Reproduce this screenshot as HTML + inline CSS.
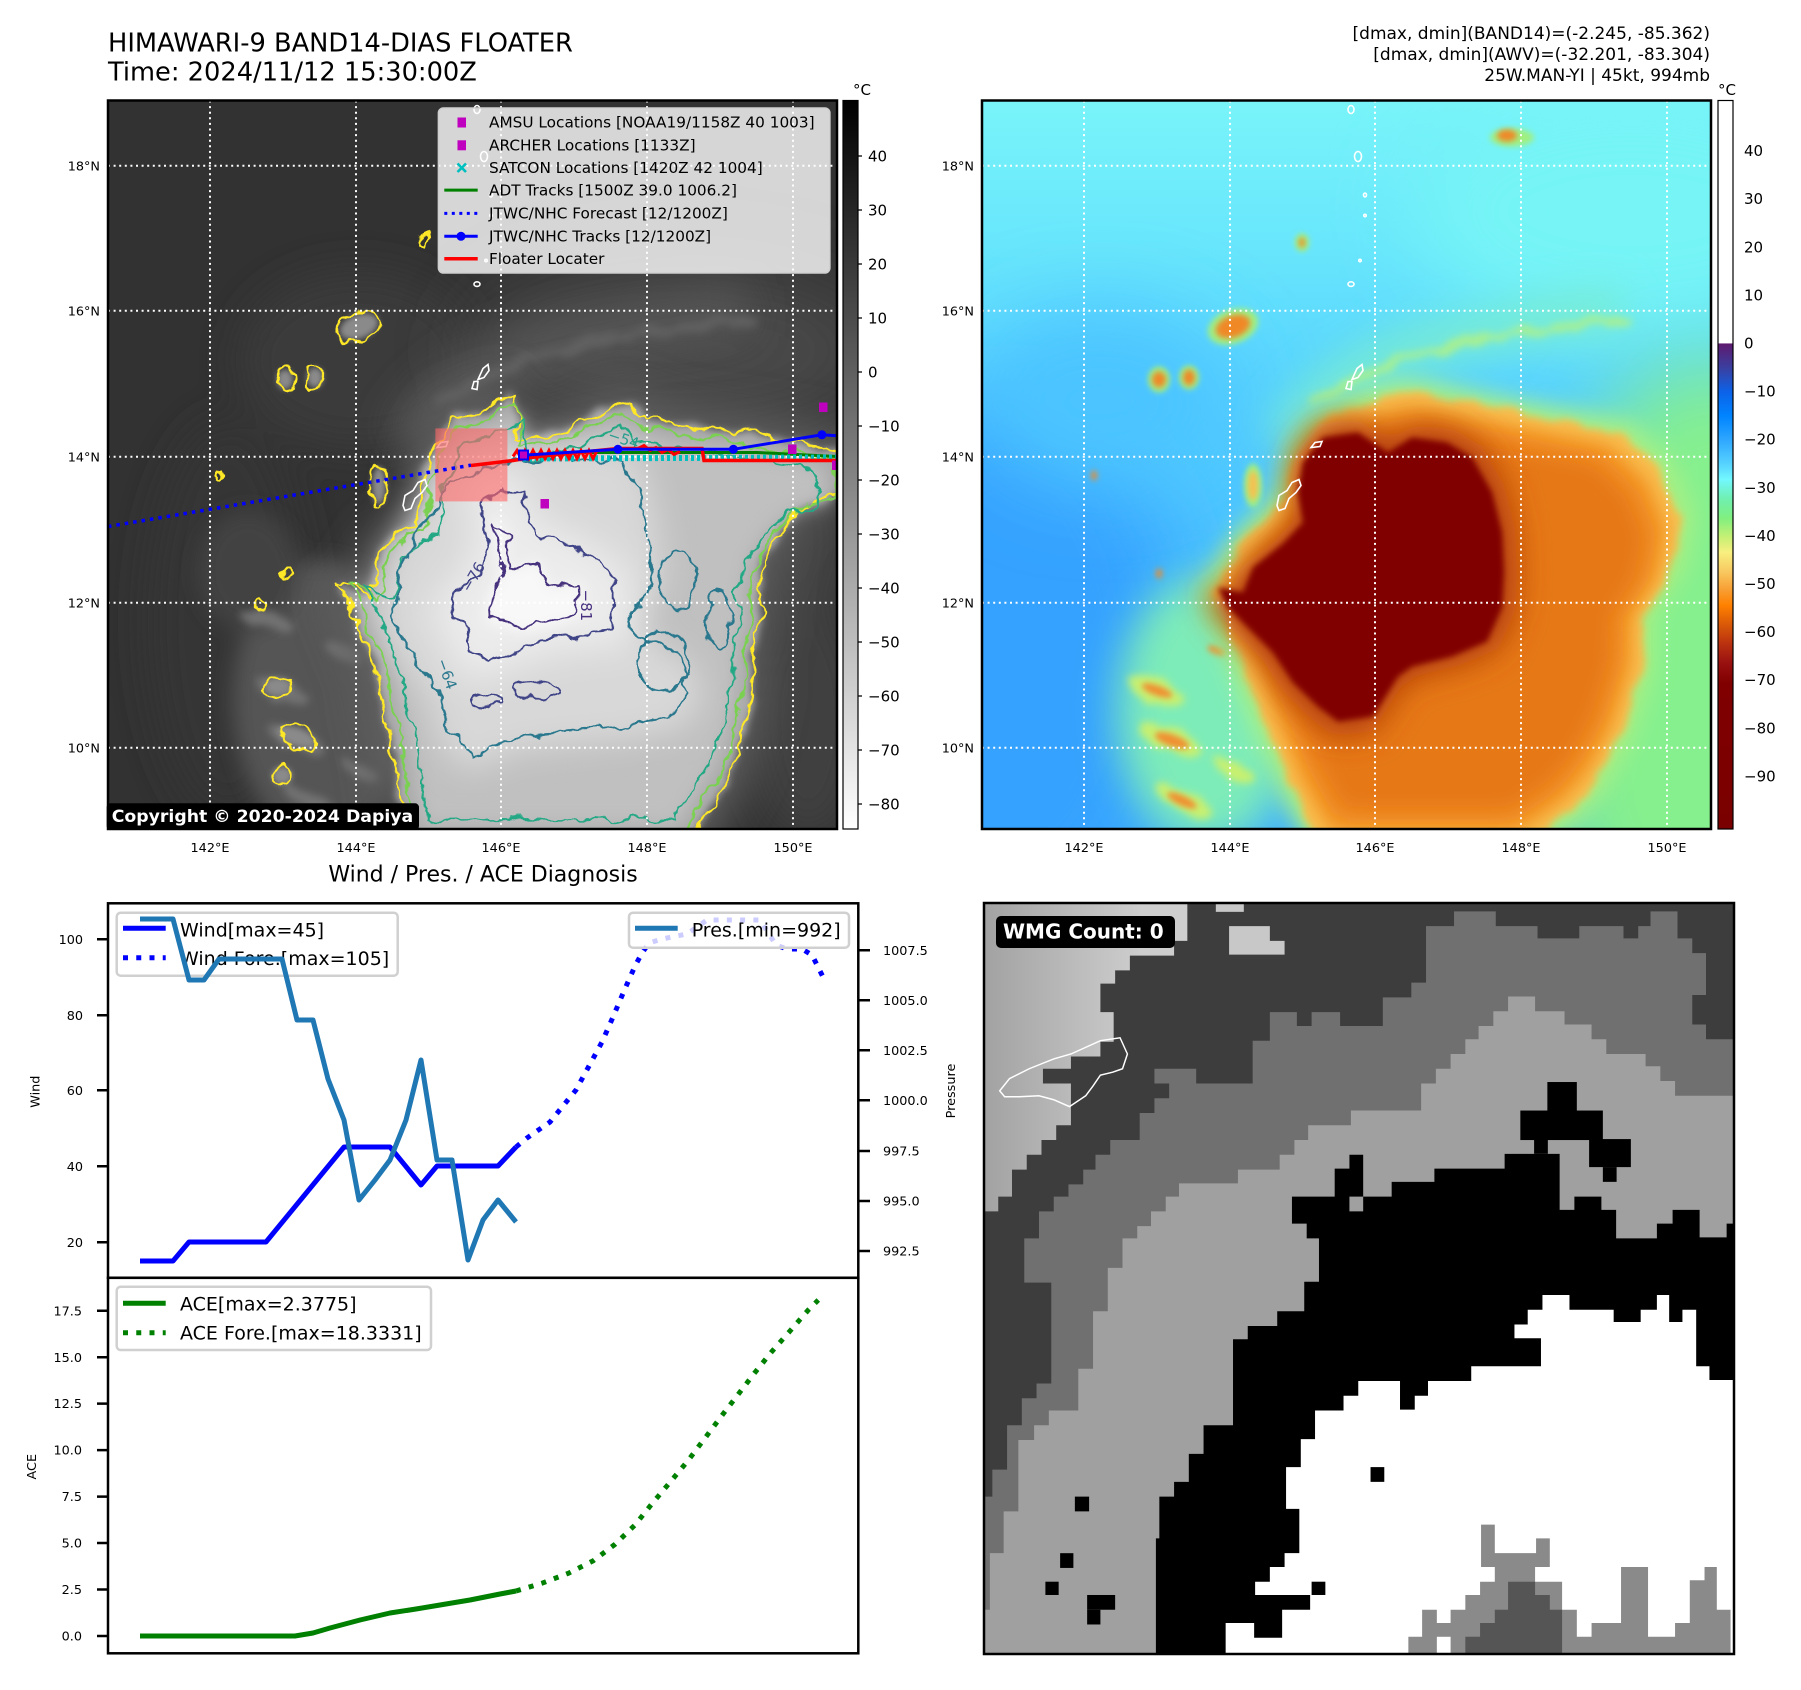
<!DOCTYPE html>
<html><head><meta charset="utf-8"><style>
html,body{margin:0;padding:0;background:#fff}
svg{display:block}
text{font-family:"DejaVu Sans","Liberation Sans",sans-serif;fill:#000}
</style></head><body>
<svg width="1801" height="1690" viewBox="0 0 1801 1690" xmlns="http://www.w3.org/2000/svg" xmlns:xlink="http://www.w3.org/1999/xlink">
<defs>
<clipPath id="mc"><rect x="0" y="0" width="729" height="728.5"/></clipPath>
<filter id="b3" filterUnits="userSpaceOnUse" x="-200" y="-200" width="1200" height="1200"><feGaussianBlur stdDeviation="3"/></filter>
<filter id="b6" filterUnits="userSpaceOnUse" x="-200" y="-200" width="1200" height="1200"><feGaussianBlur stdDeviation="6"/></filter>
<filter id="b10" filterUnits="userSpaceOnUse" x="-200" y="-200" width="1200" height="1200"><feGaussianBlur stdDeviation="10"/></filter>
<filter id="b14" filterUnits="userSpaceOnUse" x="-200" y="-200" width="1200" height="1200"><feGaussianBlur stdDeviation="14"/></filter>
<filter id="b20" filterUnits="userSpaceOnUse" x="-200" y="-200" width="1200" height="1200"><feGaussianBlur stdDeviation="20"/></filter>
<filter id="b40" filterUnits="userSpaceOnUse" x="-300" y="-300" width="1400" height="1400"><feGaussianBlur stdDeviation="40"/></filter>
<filter id="jag" filterUnits="userSpaceOnUse" x="-60" y="-60" width="850" height="850"><feTurbulence type="fractalNoise" baseFrequency="0.05" numOctaves="3" seed="7"/><feDisplacementMap in="SourceGraphic" scale="16" xChannelSelector="R" yChannelSelector="G"/></filter>
<filter id="jb" filterUnits="userSpaceOnUse" x="-60" y="-60" width="850" height="850"><feTurbulence type="fractalNoise" baseFrequency="0.04" numOctaves="3" seed="7" result="t"/><feDisplacementMap in="SourceGraphic" in2="t" scale="16" xChannelSelector="R" yChannelSelector="G" result="d"/><feGaussianBlur in="d" stdDeviation="4"/></filter>
<linearGradient id="gcb" x1="0" y1="0" x2="0" y2="1"><stop offset="0" stop-color="#000"/><stop offset="1" stop-color="#fff"/></linearGradient>
<linearGradient id="rcb" x1="0" y1="0" x2="0" y2="1">
<stop offset="0" stop-color="#fff"/><stop offset="0.333" stop-color="#fff"/>
<stop offset="0.334" stop-color="#5e1a6e"/><stop offset="0.367" stop-color="#3a3fa0"/>
<stop offset="0.4" stop-color="#0c62e8"/><stop offset="0.433" stop-color="#0084ff"/>
<stop offset="0.467" stop-color="#30a8ff"/><stop offset="0.5" stop-color="#58d4ff"/>
<stop offset="0.52" stop-color="#72f8ff"/><stop offset="0.547" stop-color="#70f0b0"/>
<stop offset="0.573" stop-color="#80f080"/><stop offset="0.6" stop-color="#c8f074"/>
<stop offset="0.62" stop-color="#f8f080"/><stop offset="0.647" stop-color="#f8c860"/>
<stop offset="0.673" stop-color="#f89c30"/><stop offset="0.693" stop-color="#ff8000"/>
<stop offset="0.72" stop-color="#d85808"/><stop offset="0.747" stop-color="#b83010"/>
<stop offset="0.773" stop-color="#981010"/><stop offset="0.8" stop-color="#800000"/>
<stop offset="1" stop-color="#7a0000"/></linearGradient>
<linearGradient id="rbg" x1="0" y1="0" x2="0" y2="1"><stop offset="0" stop-color="#78f4f9"/><stop offset="0.2" stop-color="#68e6fc"/><stop offset="0.45" stop-color="#52ccff"/><stop offset="0.75" stop-color="#44b8ff"/><stop offset="1" stop-color="#40b0ff"/></linearGradient>
<linearGradient id="lgt" gradientUnits="userSpaceOnUse" x1="8" y1="0" x2="330" y2="0"><stop offset="0" stop-color="#a2a2a2"/><stop offset="1" stop-color="#cecece"/></linearGradient>

<path id="S1" d="M390.5,302.5 L405.5,292.5 L410.4,317.4 L405.5,337.3 L440.3,337.3 L490,312.4 L515,302.5 L539.8,317.4 L589.6,327.4 L639.3,332.3 L689,342.3 L740,352 L740,392 L709,397 L679,421.9 L659.2,451.7 L649.3,491.5 L654.2,516.4 L644.3,551.2 L644.3,591 L634.3,640.8 L619.4,680.6 L599.5,710.4 L579.6,745 L301,745 L291,690.5 L286.1,655.7 L276.1,615.9 L271.1,576.1 L256.2,541.3 L236.3,491.5 L231.3,481.6 L246.3,486.6 L261.2,496.5 L271.1,451.7 L291,431.8 L310.9,426.9 L315.9,372.1 L330.8,342.3 L345.8,317.4 L370.6,312.4 Z"/>
<path id="S64" d="M311,431.8 L340.8,382 L390.5,362.2 L465.2,357.2 L514.9,362.2 L529.9,392 L539.8,431.8 L544.8,481.6 L519.9,521.4 L539.8,541.3 L569.7,556.2 L579.6,591 L559.7,616 L514.9,626 L465.2,630.8 L415.4,635.8 L365.7,655.7 L340.8,630.8 L330.8,591 L301,551.2 L286.1,516.4 L291,471.6 Z"/>
<path id="S76" d="M370.6,402 L390.5,392 L415.4,392 L420.4,417 L430.3,431.8 L465.2,446.8 L490,461.7 L504.9,476.6 L504.9,531.3 L450.2,536.3 L415.4,546.3 L380.6,561.2 L360.7,546.3 L355.7,521.4 L340.8,511.4 L350.7,491.5 L370.6,471.6 L380.6,441.8 Z"/>
<path id="S81" d="M385.6,421.9 L400.5,431.8 L400.5,471.6 L430.3,461.7 L440.3,486.6 L470.1,481.6 L470.1,511.4 L440.3,521.4 L415.4,526.4 L380.6,516.4 L385.6,491.5 L395.5,476.6 Z"/>
<path id="CORE" d="M321,362 L341,337 L376,332 L391,342 L406,352 L430,337 L465,342 L490,357 L510,392 L520,432 L522,472 L520,507 L505,541 L470,556 L430,566 L416,576 L391,616 L356,621 L336,606 L311,582 L291,552 L271,532 L246,507 L236,487 L261,492 L271,467 L301,443 L321,422 L316,392 Z"/>
<path id="ORNG" d="M440,293 L538,313 L639,333 L679,372 L699,422 L689,472 L660,516 L660,566 L640,631 L614,681 L589,711 L540,745 L341,745 L311,691 L291,641 L271,591 L251,541 L231,492 L261,442 L301,402 L316,352 L341,323 L381,303 L416,293 Z"/>
<g id="GRID" fill="none" stroke="#fff" stroke-width="2" stroke-dasharray="2 3.6">
<path d="M102,0V729M248,0V729M393,0V729M539,0V729M685,0V729"/>
<path d="M0,65.2H729M0,210.2H729M0,356.2H729M0,502.2H729M0,647.2H729"/>
</g>
<g id="ISL" fill="none" stroke="#fff" stroke-width="1.6">
<path d="M295,405 L297,395 L305,390 L310,382 L317,379 L319,385 L314,392 L307,398 L303,408 L297,410 Z"/>
<path d="M370,279 L375,268 L380,264 L381,270 L376,277 Z"/>
<path d="M364,288 L366,281 L370,281 L369,289 Z"/>
<path d="M329,347 L333,342 L340,341 L338,346 Z"/>
<ellipse cx="369" cy="9" rx="3" ry="4"/>
<ellipse cx="376" cy="56" rx="3.5" ry="5"/>
<ellipse cx="383" cy="94.5" rx="1.5" ry="2"/>
<ellipse cx="383" cy="115" rx="1.2" ry="1.2"/>
<ellipse cx="378" cy="160" rx="1.2" ry="1.2"/>
<ellipse cx="369" cy="183.6" rx="3" ry="2.3"/>
</g>
</defs>

<!-- Titles -->
<text x="108" y="51.7" font-size="25.7">HIMAWARI-9 BAND14-DIAS FLOATER</text>
<text x="108" y="80.5" font-size="25.7">Time: 2024/11/12 15:30:00Z</text>
<text x="1710" y="39" font-size="17" text-anchor="end">[dmax, dmin](BAND14)=(-2.245, -85.362)</text>
<text x="1710" y="60" font-size="17" text-anchor="end">[dmax, dmin](AWV)=(-32.201, -83.304)</text>
<text x="1710" y="81" font-size="17" text-anchor="end">25W.MAN-YI | 45kt, 994mb</text>

<!-- ================= LEFT MAP ================= -->
<g transform="translate(108,100.5)">
<g clip-path="url(#mc)">
<rect x="0" y="0" width="729" height="729" fill="#323232"/>
<g filter="url(#b20)">
<ellipse cx="250" cy="260" rx="120" ry="90" fill="#3a3a3a"/>
<ellipse cx="120" cy="520" rx="80" ry="200" fill="#363636"/>
<ellipse cx="700" cy="620" rx="60" ry="120" fill="#404040"/>
<ellipse cx="690" cy="440" rx="50" ry="80" fill="#444"/>
</g>
<ellipse cx="570" cy="250" rx="210" ry="85" fill="#484848" filter="url(#b40)"/>
<!-- NE cirrus arc -->
<path d="M300,345 C330,285 400,252 470,238 S570,215 640,210" stroke="#555" stroke-width="50" fill="none" filter="url(#b20)"/>
<path d="M330,305 C380,268 450,248 520,236 S600,222 650,220" stroke="#606060" stroke-width="10" fill="none" filter="url(#jb)"/>
<!-- lower-left streaks -->
<g filter="url(#b10)" fill="#545454">
<ellipse cx="215" cy="600" rx="90" ry="140"/>
<ellipse cx="140" cy="470" rx="50" ry="60" fill="#424242"/>
</g>
<g filter="url(#jb)" fill="#727272">
<ellipse cx="175" cy="590" rx="28" ry="10" transform="rotate(20 175 590)"/>
<ellipse cx="190" cy="640" rx="30" ry="10" transform="rotate(20 190 640)"/>
<ellipse cx="200" cy="700" rx="30" ry="9" transform="rotate(25 200 700)"/>
<ellipse cx="235" cy="550" rx="20" ry="8" transform="rotate(20 235 550)"/>
<ellipse cx="250" cy="670" rx="22" ry="8" transform="rotate(25 250 670)"/>
<ellipse cx="160" cy="520" rx="25" ry="8" transform="rotate(15 160 520)"/>
</g>
<!-- cloud mass -->
<use href="#S1" fill="#606060" filter="url(#b20)" transform="translate(470 520) scale(1.08) translate(-470 -520)"/>
<use href="#S1" fill="#a8a8a8" filter="url(#jb)"/>
<use href="#S1" fill="#c0c0c0" filter="url(#b10)" transform="translate(470 520) scale(0.92) translate(-470 -520)"/>
<use href="#S64" fill="#d8d8d8" filter="url(#b14)" transform="translate(430 500) scale(1.1) translate(-430 -500)"/>
<use href="#S76" fill="#ececec" filter="url(#b14)" transform="translate(430 480) scale(1.25) translate(-430 -480)"/>
<use href="#S81" fill="#f8f8f8" filter="url(#b6)" transform="translate(425 475) scale(1.1) translate(-425 -475)"/>
<!-- small cloud blobs -->
<g fill="#8a8a8a" filter="url(#b3)">
<ellipse cx="251" cy="226" rx="20" ry="12" transform="rotate(-20 251 226)"/>
<ellipse cx="177" cy="279" rx="8" ry="10"/><ellipse cx="207" cy="277" rx="8" ry="10"/>
<ellipse cx="271" cy="385" rx="7" ry="19"/>
<ellipse cx="170" cy="586" rx="13" ry="8"/><ellipse cx="188" cy="636" rx="20" ry="8" transform="rotate(20 188 636)"/>
<ellipse cx="174" cy="675" rx="10" ry="9"/>
</g>
<!-- contours -->
<g filter="url(#jag)" fill="none" stroke-width="2.3" stroke-linejoin="round">
<use href="#S1" stroke="#fde725"/>
<use href="#S1" stroke="#7ad151" transform="translate(470 520) scale(0.955) translate(-470 -520)"/>
<use href="#S1" stroke="#22a884" transform="translate(470 520) scale(0.885) translate(-470 -520)"/>
<use href="#S64" stroke="#2a788e"/>
<use href="#S76" stroke="#414487"/>
<use href="#S81" stroke="#46307e"/>
<g stroke="#fde725">
<ellipse cx="251" cy="226" rx="22" ry="14" transform="rotate(-20 251 226)"/>
<ellipse cx="177" cy="279" rx="8" ry="11"/><ellipse cx="207" cy="277" rx="8" ry="11"/>
<ellipse cx="271" cy="385" rx="8" ry="20"/>
<ellipse cx="170" cy="586" rx="14" ry="9"/><ellipse cx="188" cy="636" rx="22" ry="9" transform="rotate(20 188 636)"/>
<ellipse cx="174" cy="675" rx="10" ry="10"/>
<ellipse cx="177" cy="473" rx="4" ry="6"/><ellipse cx="112" cy="375" rx="3" ry="5"/><ellipse cx="316" cy="141" rx="4" ry="6"/>
<ellipse cx="150" cy="505" rx="5" ry="7"/>
</g>
<g stroke="#2a788e">
<ellipse cx="570" cy="480" rx="18" ry="30"/><ellipse cx="555" cy="560" rx="25" ry="30"/><ellipse cx="610" cy="520" rx="12" ry="30"/>
</g>
<g stroke="#414487">
<ellipse cx="430" cy="590" rx="25" ry="8"/><ellipse cx="380" cy="600" rx="15" ry="6"/>
</g>
</g>
<text x="500" y="342" font-size="15" style="fill:#2a9d8f" transform="rotate(18 510 337)">−54</text>
<text x="352" y="488" font-size="15" style="fill:#414487" transform="rotate(-60 361 482)">−76</text>
<text x="470" y="502" font-size="15" style="fill:#46307e" transform="rotate(90 478 497)">−81</text>
<text x="328" y="571" font-size="15" style="fill:#2a788e" transform="rotate(70 336 566)">−64</text>
<use href="#ISL"/>
<use href="#GRID"/>
<!-- floater box -->
<rect x="327.4" y="327.9" width="72" height="73" fill="rgb(255,105,105)" fill-opacity="0.62"/>
<!-- tracks -->
<path d="M0,426 L363,364.7" stroke="#0000ff" stroke-width="3.5" stroke-dasharray="3.5 5" fill="none"/>
<path d="M470,352 L649,352 L730,356" stroke="#008000" stroke-width="3" fill="none"/>
<path d="M415,358 L729,357" stroke="#00bfbf" stroke-width="6" stroke-dasharray="3 3" fill="none"/>
<path d="M363,365 L405,360 L430,356 L490,350 L510,348 L594,348 L596,360 L730,360" stroke="#ff0000" stroke-width="3.5" fill="none"/>
<path d="M405,356 l4,-6 l4,8 l4,-8 l4,8 l4,-8 l4,8 l4,-8 l4,8 l4,-8 l4,8 l4,-8 l4,8 l4,-8 l4,8 l4,-8 l4,8 l4,-8 l4,8 l4,-8 l4,8 l4,-8" stroke="#ff0000" stroke-width="3" fill="none"/>
<path d="M530,348 l6,-3 l6,5 l6,-3 l6,5 l6,-3 l6,5 l6,-3" stroke="#ff0000" stroke-width="3" fill="none"/>
<path d="M415.4,354.7 L509.9,348.8 L625.4,348.8 L713.9,334.3 L730,335.3" stroke="#0000ff" stroke-width="3" fill="none"/>
<g fill="#0000ff"><circle cx="509.9" cy="348.8" r="4.5"/><circle cx="625.4" cy="348.8" r="4.5"/><circle cx="713.9" cy="334.3" r="4.5"/></g>
<rect x="411" y="350" width="9" height="9" fill="#bf00bf" stroke="#0000ff" stroke-width="2"/>
<g fill="#bf00bf"><rect x="432.5" y="398.5" width="8.5" height="9.5"/><rect x="711" y="302" width="8.5" height="9.5"/><rect x="680" y="344" width="8.5" height="9.5"/><rect x="724" y="360" width="8.5" height="9.5"/></g>
</g>
</g>
<!-- legend -->
<rect x="438.4" y="108" width="391.5" height="165" rx="5" fill="#fff" fill-opacity="0.8" stroke="#cfcfcf" stroke-width="1.5"/>
<rect x="457.5" y="117.5" width="8.5" height="10" fill="#bf00bf"/>
<rect x="457.5" y="140.3" width="8.5" height="10" fill="#bf00bf"/>
<path d="M457.5,163.5 l8.5,8.5 M466,163.5 l-8.5,8.5" stroke="#00bfbf" stroke-width="2.6"/>
<path d="M444.3,190.1 H477.7" stroke="#008000" stroke-width="3"/>
<path d="M444.3,213.4 H477.7" stroke="#0000ff" stroke-width="3" stroke-dasharray="3 4.5"/>
<path d="M444.3,236.3 H477.7" stroke="#0000ff" stroke-width="3"/><circle cx="461" cy="236.3" r="4.5" fill="#0000ff"/>
<path d="M444.3,258.7 H477.7" stroke="#ff0000" stroke-width="3.5"/>
<g font-size="15.3">
<text x="489" y="127.7">AMSU Locations [NOAA19/1158Z 40 1003]</text>
<text x="489" y="150.6">ARCHER Locations [1133Z]</text>
<text x="489" y="173">SATCON Locations [1420Z 42 1004]</text>
<text x="489" y="195.4">ADT Tracks [1500Z 39.0 1006.2]</text>
<text x="489" y="218.7">JTWC/NHC Forecast [12/1200Z]</text>
<text x="489" y="241.6">JTWC/NHC Tracks [12/1200Z]</text>
<text x="489" y="264">Floater Locater</text>
</g>
<rect x="108" y="100.5" width="729" height="728.5" fill="none" stroke="#000" stroke-width="2.5"/>
<rect x="106.7" y="803.3" width="312.3" height="26.7" rx="4" fill="#000"/>
<text x="111.7" y="822" font-size="17.3" font-weight="bold" style="fill:#fff">Copyright © 2020-2024 Dapiya</text>
<!-- map axes labels -->
<g font-size="12.8" text-anchor="end">
<text x="100" y="170.3">18°N</text><text x="100" y="315.3">16°N</text><text x="100" y="461.3">14°N</text><text x="100" y="607.3">12°N</text><text x="100" y="752.3">10°N</text>
<text x="974" y="170.3">18°N</text><text x="974" y="315.3">16°N</text><text x="974" y="461.3">14°N</text><text x="974" y="607.3">12°N</text><text x="974" y="752.3">10°N</text>
</g>
<g font-size="12.8" text-anchor="middle">
<text x="210" y="852">142°E</text><text x="356" y="852">144°E</text><text x="501" y="852">146°E</text><text x="647" y="852">148°E</text><text x="793" y="852">150°E</text>
<text x="1084" y="852">142°E</text><text x="1230" y="852">144°E</text><text x="1375" y="852">146°E</text><text x="1521" y="852">148°E</text><text x="1667" y="852">150°E</text>
</g>
<!-- left colorbar -->
<rect x="843" y="100.5" width="15" height="728.5" fill="url(#gcb)" stroke="#000" stroke-width="1.2"/>
<text x="862" y="95" font-size="15" text-anchor="middle">°C</text>
<g stroke="#000" stroke-width="1.2"><path d="M858,156h4M858,210h4M858,264h4M858,318h4M858,372h4M858,426h4M858,480h4M858,534h4M858,588h4M858,642h4M858,696h4M858,750h4M858,804h4"/></g>
<g font-size="15">
<text x="868" y="161.4">40</text><text x="868" y="215.4">30</text><text x="868" y="269.4">20</text><text x="868" y="323.4">10</text><text x="868" y="377.4">0</text>
<text x="868" y="431.4">−10</text><text x="868" y="485.4">−20</text><text x="868" y="539.4">−30</text><text x="868" y="593.4">−40</text><text x="868" y="647.4">−50</text><text x="868" y="701.4">−60</text><text x="868" y="755.4">−70</text><text x="868" y="809.4">−80</text>
</g>

<!-- ================= RIGHT MAP ================= -->
<g transform="translate(982,100.5)">
<g clip-path="url(#mc)">
<rect x="0" y="0" width="729" height="729" fill="url(#rbg)"/>
<ellipse cx="650" cy="110" rx="220" ry="120" fill="#76f4f6" filter="url(#b40)"/>
<ellipse cx="730" cy="580" rx="180" ry="320" fill="#86f08e" filter="url(#b40)"/>
<ellipse cx="30" cy="560" rx="170" ry="260" fill="#34a2ff" filter="url(#b40)"/>
<ellipse cx="120" cy="300" rx="130" ry="90" fill="#4cc4ff" filter="url(#b40)"/>
<!-- NE arc -->
<path d="M300,345 C330,285 400,252 470,238 S570,215 640,210" stroke="#78ecd0" stroke-width="40" fill="none" filter="url(#b20)"/>
<path d="M330,305 C380,268 450,248 520,236 S600,222 650,220" stroke="#a8f090" stroke-width="8" fill="none" filter="url(#jb)"/>
<!-- lower-left streaks -->
<ellipse cx="225" cy="610" rx="90" ry="135" fill="#7eecb8" filter="url(#b20)"/>
<g filter="url(#jb)" fill="#c8f070">
<ellipse cx="175" cy="590" rx="30" ry="12" transform="rotate(20 175 590)"/>
<ellipse cx="190" cy="640" rx="32" ry="12" transform="rotate(20 190 640)"/>
<ellipse cx="200" cy="700" rx="32" ry="11" transform="rotate(25 200 700)"/>
<ellipse cx="250" cy="670" rx="24" ry="10" transform="rotate(25 250 670)"/>
</g>
<g filter="url(#b3)" fill="#f09030">
<ellipse cx="175" cy="590" rx="16" ry="5" transform="rotate(20 175 590)"/>
<ellipse cx="190" cy="640" rx="18" ry="6" transform="rotate(20 190 640)"/>
<ellipse cx="200" cy="700" rx="16" ry="5" transform="rotate(25 200 700)"/>
<ellipse cx="235" cy="550" rx="10" ry="4" transform="rotate(20 235 550)"/>
</g>
<!-- cloud mass -->
<use href="#ORNG" fill="#a8f084" filter="url(#b10)" transform="translate(470 520) scale(1.06) translate(-470 -520)"/>
<use href="#ORNG" fill="#f8c050" filter="url(#jb)"/>
<use href="#ORNG" fill="#f49426" filter="url(#b10)" transform="translate(470 520) scale(0.94) translate(-470 -520)"/>
<use href="#ORNG" fill="#e67814" filter="url(#b14)" transform="translate(470 520) scale(0.86) translate(-470 -520)"/>
<use href="#CORE" fill="#b43c08" filter="url(#b14)" transform="translate(390 470) scale(1.1) translate(-390 -470)"/>
<use href="#CORE" fill="#800000" filter="url(#b3)"/>
<!-- small blobs -->
<g fill="#a0f080" filter="url(#b3)">
<ellipse cx="251" cy="226" rx="26" ry="17" transform="rotate(-20 251 226)"/>
<ellipse cx="177" cy="279" rx="11" ry="13"/><ellipse cx="207" cy="277" rx="10" ry="12"/>
<ellipse cx="271" cy="385" rx="9" ry="22"/>
<ellipse cx="530" cy="37" rx="22" ry="9"/><ellipse cx="320" cy="142" rx="7" ry="9"/>
</g>
<g fill="#f08828" filter="url(#b3)">
<ellipse cx="251" cy="226" rx="18" ry="11" transform="rotate(-20 251 226)"/>
<ellipse cx="177" cy="279" rx="7" ry="8"/><ellipse cx="207" cy="277" rx="6" ry="8"/>
<ellipse cx="271" cy="385" rx="5" ry="15" fill="#f8c050"/>
<ellipse cx="525" cy="35" rx="10" ry="6"/><ellipse cx="320" cy="142" rx="3" ry="5"/>
<ellipse cx="112" cy="375" rx="3" ry="5"/><ellipse cx="177" cy="473" rx="3" ry="5"/>
</g>
<use href="#ISL"/>
<use href="#GRID"/>
</g>
</g>
<rect x="982" y="100.5" width="729" height="728.5" fill="none" stroke="#000" stroke-width="2.5"/>
<!-- right colorbar -->
<rect x="1718" y="100.5" width="15" height="728.5" fill="url(#rcb)" stroke="#000" stroke-width="1.2"/>
<text x="1727" y="95" font-size="15" text-anchor="middle">°C</text>
<g font-size="15">
<text x="1744" y="156.1">40</text><text x="1744" y="204.2">30</text><text x="1744" y="252.3">20</text><text x="1744" y="300.4">10</text><text x="1744" y="348.5">0</text>
<text x="1744" y="396.6">−10</text><text x="1744" y="444.7">−20</text><text x="1744" y="492.8">−30</text><text x="1744" y="540.9">−40</text><text x="1744" y="589">−50</text><text x="1744" y="637.1">−60</text><text x="1744" y="685.2">−70</text><text x="1744" y="733.3">−80</text><text x="1744" y="781.4">−90</text>
</g>

<!-- ================= WIND / PRES / ACE ================= -->
<text x="483" y="881.5" font-size="22" text-anchor="middle">Wind / Pres. / ACE Diagnosis</text>
<g stroke="#000" stroke-width="2.5">
<path d="M97,939.3H108M97,1015.3H108M97,1090.3H108M97,1166.3H108M97,1242.3H108"/>
<path d="M858,950.3H870M858,1000.3H870M858,1050.3H870M858,1100.3H870M858,1151H870M858,1201H870M858,1251H870"/>
<path d="M97,1310.7H108M97,1357.2H108M97,1403.6H108M97,1450.1H108M97,1496.6H108M97,1543H108M97,1589.5H108M97,1636H108"/>
</g>
<g font-size="12.8" text-anchor="end">
<text x="83" y="943.9">100</text><text x="83" y="1019.9">80</text><text x="83" y="1094.9">60</text><text x="83" y="1170.9">40</text><text x="83" y="1246.9">20</text>
<text x="82" y="1315.3">17.5</text><text x="82" y="1361.8">15.0</text><text x="82" y="1408.2">12.5</text><text x="82" y="1454.7">10.0</text><text x="82" y="1501.2">7.5</text><text x="82" y="1547.6">5.0</text><text x="82" y="1594.1">2.5</text><text x="82" y="1640.6">0.0</text>
</g>
<g font-size="12.8">
<text x="883" y="954.9">1007.5</text><text x="883" y="1004.9">1005.0</text><text x="883" y="1054.9">1002.5</text><text x="883" y="1104.9">1000.0</text><text x="883" y="1155.6">997.5</text><text x="883" y="1205.6">995.0</text><text x="883" y="1255.6">992.5</text>
</g>
<text font-size="12.8" text-anchor="middle" transform="translate(39.5,1091.7) rotate(-90)">Wind</text>
<text font-size="12.8" text-anchor="middle" transform="translate(955,1091) rotate(-90)">Pressure</text>
<text font-size="12.8" text-anchor="middle" transform="translate(36,1466.7) rotate(-90)">ACE</text>

<polyline points="140,1261 173,1261 189,1242 266,1242 344,1147 390,1147 421,1185 437,1166 498,1166 516,1147" fill="none" stroke="#0000ff" stroke-width="5" stroke-linejoin="round"/>
<polyline points="516,1147 527,1138 550,1122 567,1101 576,1090 589,1066 602,1042 613,1017 624,991 635,966 642,953 649,943 662,939 687,934 707,920 760,920 776,945 787,949 802,949 812,955 823,977" fill="none" stroke="#0000ff" stroke-width="5" stroke-dasharray="5 8.25"/>
<rect x="116.7" y="912.7" width="281" height="63" rx="4" fill="#fff" fill-opacity="0.8" stroke="#d0d0d0" stroke-width="2.5"/>
<path d="M123,928.3H165.7" stroke="#0000ff" stroke-width="5"/>
<path d="M123,957.7H165.7" stroke="#0000ff" stroke-width="5" stroke-dasharray="5 8.25"/>
<text x="180" y="936.5" font-size="19">Wind[max=45]</text>
<text x="180" y="965" font-size="19">Wind Fore.[max=105]</text>
<polyline points="140,919 173,919 189,980 204,980 219,959 282,959 297,1020 313,1020 328,1079 344,1120 359,1200 375,1180 390,1160 406,1120 421,1060 437,1160 452,1160 468,1260 483,1220 498,1200 516,1222" fill="none" stroke="#1f77b4" stroke-width="5" stroke-linejoin="round"/>
<rect x="629" y="912.7" width="220" height="35" rx="4" fill="#fff" fill-opacity="0.8" stroke="#d0d0d0" stroke-width="2.5"/>
<path d="M635,928.3H677.7" stroke="#1f77b4" stroke-width="5"/>
<text x="691.7" y="936.5" font-size="19">Pres.[min=992]</text>
<rect x="108" y="903.3" width="750.3" height="374.5" fill="none" stroke="#000" stroke-width="2.5"/>

<polyline points="140,1636 295,1636 313,1633 330,1628 360,1620 390,1613 416,1609 440,1605 470,1600 500,1594 516,1591" fill="none" stroke="#008000" stroke-width="5" stroke-linejoin="round"/>
<polyline points="516,1591 541.7,1583.3 568.3,1573.3 593.3,1560.7 615,1544.3 635,1525 652.3,1503.3 670,1482.3 687.7,1461 704.3,1439 721,1416.7 737.7,1395 754.3,1373.3 771.7,1351.7 790,1331 808.3,1310 818.3,1300" fill="none" stroke="#008000" stroke-width="5" stroke-dasharray="5 8.25"/>
<rect x="116.7" y="1286.7" width="314.3" height="63.3" rx="4" fill="#fff" fill-opacity="0.8" stroke="#d0d0d0" stroke-width="2.5"/>
<path d="M123,1303.3H165.7" stroke="#008000" stroke-width="5"/>
<path d="M123,1332.7H165.7" stroke="#008000" stroke-width="5" stroke-dasharray="5 8.25"/>
<text x="180" y="1310.5" font-size="19">ACE[max=2.3775]</text>
<text x="180" y="1339.5" font-size="19">ACE Fore.[max=18.3331]</text>
<rect x="108" y="1277.8" width="750.3" height="375.5" fill="none" stroke="#000" stroke-width="2.5"/>

<!-- ================= BOTTOM RIGHT ================= -->
<svg x="984" y="903" width="750" height="751" viewBox="8 8 1527 1527" preserveAspectRatio="none">
<rect x="0" y="0" width="1600" height="1600" fill="#3d3d3d"/>
<polygon fill="url(#lgt)" points="8,8 422,8 422,85 395,85 395,115 305,115 305,145 275,145 275,172 245,172 245,230 272,230 272,290 245,290 245,320 185,320 185,345 128,345 128,375 185,375 185,460 155,460 155,490 125,490 125,520 95,520 95,550 65,550 65,605 37,605 37,635 8,635"/>
<rect x="480" y="8" width="57" height="18" fill="#c8c8c8"/>
<polygon fill="#c8c8c8" points="507,55 590,55 590,85 620,85 620,113 507,113"/>
<polygon fill="#707070" points="965,25 1050,25 1050,55 1135,55 1135,80 1220,80 1220,55 1310,55 1310,80 1340,80 1340,55 1365,55 1365,25 1420,25 1420,80 1450,80 1450,110 1478,110 1478,195 1450,195 1450,255 1478,255 1478,285 1540,285 1540,1540 8,1540 8,1215 25,1215 25,1160 55,1160 55,1070 85,1070 85,1015 115,1015 115,985 145,985 145,780 90,780 90,690 120,690 120,635 150,635 150,605 180,605 180,580 210,580 210,550 235,550 235,520 265,520 265,490 325,490 325,435 355,435 355,405 385,405 385,375 355,375 355,345 440,345 440,375 555,375 555,288 590,288 590,230 645,230 645,258 675,258 675,230 733,230 733,258 820,258 820,200 878,200 878,170 908,170 908,55 965,55"/>
<polygon fill="#a0a0a0" points="1540,400 1415,400 1415,370 1385,370 1385,340 1355,340 1355,315 1275,315 1275,285 1245,285 1245,255 1190,255 1190,228 1130,228 1130,198 1075,198 1075,228 1045,228 1045,258 1015,258 1015,285 988,285 988,315 958,315 958,345 928,345 928,375 898,375 898,430 755,430 755,460 668,460 668,490 640,490 640,520 610,520 610,550 525,550 525,578 405,578 405,605 378,605 378,635 348,635 348,665 320,665 320,690 290,690 290,750 260,750 260,838 230,838 230,955 200,955 200,1040 140,1040 140,1070 110,1070 110,1100 78,1100 78,1245 48,1245 48,1330 20,1330 20,1445 8,1445 8,1540 1540,1540"/>
<polygon fill="#000" points="358,1540 358,1300 365,1300 365,1215 395,1215 395,1185 425,1185 425,1128 455,1128 455,1070 515,1070 515,895 545,895 545,868 605,868 605,838 660,838 660,778 690,778 690,690 665,690 665,660 635,660 635,605 722,605 722,548 752,548 752,520 780,520 780,605 838,605 838,575 925,575 925,548 1068,548 1068,518 1180,518 1180,632 1210,632 1210,605 1265,605 1265,632 1295,632 1295,690 1378,690 1378,660 1410,660 1410,632 1465,632 1465,688 1520,688 1520,660 1540,660 1540,1540"/>
<rect x="752" y="605" width="28" height="30" fill="#a0a0a0"/>
<g fill="#000">
<rect x="1155" y="372" width="60" height="60"/><rect x="1100" y="430" width="168" height="60"/><rect x="1240" y="488" width="85" height="57"/><rect x="1268" y="545" width="28" height="30"/><rect x="1128" y="488" width="28" height="30"/>
</g>
<polygon fill="#fff" points="1145,805 1200,805 1200,835 1290,835 1290,860 1345,860 1345,835 1378,835 1378,805 1403,805 1403,860 1430,860 1430,835 1458,835 1458,950 1485,950 1485,978 1540,978 1540,1540 500,1540 500,1472 558,1472 558,1502 615,1502 615,1445 672,1445 672,1415 560,1415 560,1388 590,1388 590,1358 620,1358 620,1330 650,1330 650,1240 623,1240 623,1155 653,1155 653,1098 682,1098 682,1040 740,1040 740,1010 770,1010 770,980 855,980 855,1038 885,1038 885,1010 912,1010 912,980 1000,980 1000,950 1142,950 1142,893 1088,893 1088,865 1115,865 1115,835 1145,835"/>
<g fill="#000">
<rect x="795" y="1155" width="28" height="30"/><rect x="675" y="1388" width="28" height="27"/><rect x="193" y="1215" width="29" height="30"/><rect x="163" y="1330" width="27" height="30"/><rect x="133" y="1388" width="27" height="27"/><rect x="218" y="1415" width="57" height="30"/><rect x="218" y="1445" width="27" height="30"/>
</g>
<polygon fill="#8a8a8a" points="1020,1272 1048,1272 1048,1330 1132,1330 1132,1300 1160,1300 1160,1358 1130,1358 1130,1388 1185,1388 1185,1445 1215,1445 1215,1500 1245,1500 1245,1472 1305,1472 1305,1358 1360,1358 1360,1500 1415,1500 1415,1472 1445,1472 1445,1385 1475,1385 1475,1358 1500,1358 1500,1445 1528,1445 1528,1540 872,1540 872,1500 900,1500 900,1445 930,1445 930,1472 958,1472 958,1445 988,1445 988,1415 1018,1415 1018,1388 1048,1388 1048,1358 1020,1358"/>
<rect x="930" y="1500" width="28" height="40" fill="#fff"/>
<polygon fill="#555" points="1075,1388 1130,1388 1130,1415 1160,1415 1160,1445 1185,1445 1185,1540 988,1540 988,1500 1018,1500 1018,1472 1048,1472 1048,1445 1075,1445"/>
<path d="M40,390 L60,365 L100,345 L150,325 L185,315 L245,288 L285,282 L300,315 L290,345 L270,352 L245,358 L230,380 L215,400 L182,422 L150,408 L120,400 L80,402 L50,402 Z" fill="none" stroke="#fff" stroke-width="3"/>
</svg>
<rect x="984" y="903" width="750" height="751" fill="none" stroke="#000" stroke-width="2.5"/>
<rect x="996" y="916" width="179" height="32" rx="5" fill="#000"/>
<text x="1003" y="938.5" font-size="20" font-weight="bold" style="fill:#fff">WMG Count: 0</text>
</svg>
</body></html>
